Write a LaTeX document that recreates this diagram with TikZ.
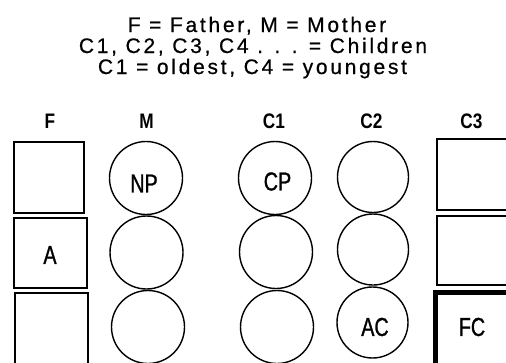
\documentclass[tikz,border=0pt]{standalone}
\usepackage{fontspec}
\setmainfont{Liberation Sans}
\newfontfamily\titlefont[LetterSpace=13,FakeBold=0.6]{Liberation Sans}
\newfontfamily\headfont[FakeStretch=0.82]{Liberation Sans}
\newfontfamily\labfont[FakeStretch=0.76,FakeBold=1]{Liberation Sans}
\begin{document}
\begin{tikzpicture}[x=1pt,y=-1pt,line width=1.4pt,
  circ/.style={draw,circle,inner sep=0pt,minimum size=73pt},
  circb/.style={draw,circle,inner sep=0pt,minimum size=71pt},
  sq/.style={draw,rectangle,inner sep=0pt},
  ttl/.style={anchor=base,inner sep=0pt,font=\titlefont\fontsize{21}{24}\selectfont},
  hd/.style={anchor=base,inner sep=0pt,font=\headfont\bfseries\fontsize{21}{24}\selectfont},
  lab/.style={inner sep=0pt,font=\labfont\fontsize{26}{28}\selectfont}]
\useasboundingbox (0,0) rectangle (506,362);
\clip (0,0) rectangle (506,362);
% title
\node[ttl] (t1) at (257,32) {F = Father, M = Mother};
\node[ttl] (t2) at (253,53) {C1, C2, C3, C4 . . . = Children};
\node[ttl] (t3) at (252.5,74) {C1 = oldest, C4 = youngest};
% headers
\node[hd] (hF)  at (50,128)  {F};
\node[hd] (hM)  at (146.5,128) {M};
\node[hd] (hC1) at (274,128) {C1};
\node[hd] (hC2) at (371.5,128) {C2};
\node[hd] (hC3) at (471.5,128) {C3};
% F column
\node[sq,minimum width=70pt,minimum height=71pt] (f1) at (49,177.5) {};
\node[sq,minimum width=73pt,minimum height=70pt] (f2) at (50.5,253) {};
\node[sq,minimum width=73pt,minimum height=75pt] (f3) at (51.5,330.5) {};
% M column
\node[circ] (m1) at (146,178) {};
\node[circ] (m2) at (146.5,252.5) {};
\node[circ] (m3) at (148,327) {};
% C1 column
\node[circ] (c11) at (275,178) {};
\node[circ] (c12) at (276,252) {};
\node[circ] (c13) at (277,327) {};
% C2 column
\node[circb] (c21) at (373,177) {};
\node[circb] (c22) at (373,249.5) {};
\node[circb] (c23) at (372.5,322.5) {};
% C3 column
\node[sq,minimum width=83pt,minimum height=71pt] (c31) at (478.5,174.5) {};
\node[sq,minimum width=83pt,minimum height=69pt] (c32) at (478.5,250.5) {};
\node[sq,line width=5pt,minimum width=85pt,minimum height=78pt] (c33) at (477.5,331) {};
% labels
\node[lab] (lNP) at (144,183.5) {NP};
\node[lab] (lA)  at (50,255) {A};
\node[lab] (lCP) at (277.5,181.5) {CP};
\node[lab] (lAC) at (375,327) {AC};
\node[lab] (lFC) at (472,327) {FC};
\end{tikzpicture}
\end{document}
